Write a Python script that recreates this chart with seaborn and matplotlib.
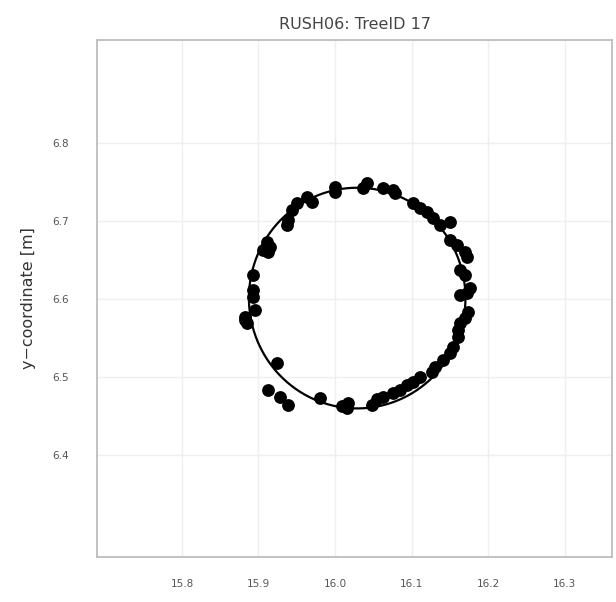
import numpy as np
import pandas as pd
import matplotlib
matplotlib.use("Agg")
import matplotlib.pyplot as plt
import seaborn as sns

title = "RUSH06: TreeID 17"
ylabel = "y\u2212coordinate [m]"

x_pts = [16.000, 16.000, 16.042, 16.037, 16.063, 16.076, 16.078, 16.102, 16.111, 16.120,
         16.128, 16.137, 16.150, 16.150, 16.159, 16.170, 16.173, 16.163, 16.170, 16.176,
         16.163, 16.173, 16.174, 16.170, 16.163, 16.161, 16.161, 16.154, 16.150, 16.141,
         16.131, 16.127, 16.111, 16.102, 16.094, 16.085, 16.076, 16.063, 16.055, 16.048,
         16.017, 16.016, 16.009, 15.980, 15.912, 15.928, 15.939, 15.924, 15.882, 15.885,
         15.882, 15.895, 15.893, 15.893, 15.893, 15.911, 15.915, 15.906, 15.912, 15.939,
         15.937, 15.944, 15.950, 15.963, 15.970]
y_pts = [6.744, 6.737, 6.749, 6.742, 6.742, 6.740, 6.736, 6.723, 6.717, 6.712,
         6.704, 6.695, 6.699, 6.676, 6.669, 6.660, 6.654, 6.637, 6.631, 6.614,
         6.605, 6.608, 6.583, 6.576, 6.569, 6.560, 6.551, 6.538, 6.531, 6.522,
         6.513, 6.506, 6.500, 6.494, 6.490, 6.483, 6.479, 6.474, 6.471, 6.464,
         6.467, 6.460, 6.462, 6.473, 6.483, 6.474, 6.464, 6.518, 6.577, 6.569,
         6.573, 6.586, 6.612, 6.603, 6.631, 6.673, 6.667, 6.663, 6.660, 6.701,
         6.695, 6.714, 6.723, 6.731, 6.724]

# fitted circle parameters
circle_cx = 16.029
circle_cy = 6.601
circle_r = 0.1415

x_ticks = [15.8, 15.9, 16.0, 16.1, 16.2, 16.3]
y_ticks = [6.4, 6.5, 6.6, 6.7, 6.8]

df = pd.DataFrame({"x": x_pts, "y": y_pts})

sns.set_theme(style="white")
plt.rcParams['font.family'] = ['DejaVu Sans']

fig = plt.figure(figsize=(6.16, 6.02), dpi=100)
ax = fig.add_axes([0.1575, 0.0748, 0.836, 0.8588])

t = np.linspace(0, 2 * np.pi, 400)
circ = pd.DataFrame({"x": circle_cx + circle_r * np.cos(t),
                     "y": circle_cy + circle_r * np.sin(t)})
ax.plot(circ["x"], circ["y"], color="black", lw=1.6, zorder=2)

sns.scatterplot(data=df, x="x", y="y", ax=ax, color="black", s=85,
                edgecolor="black", linewidth=0, zorder=3, legend=False)

ax.set_xlim(15.689, 16.362)
ax.set_ylim(6.269, 6.932)
ax.set_xticks(x_ticks)
ax.set_yticks(y_ticks)
ax.set_xticklabels([f"{v:.1f}" for v in x_ticks])
ax.set_yticklabels([f"{v:.1f}" for v in y_ticks])
ax.grid(True, color="#efefef", lw=1.0)
ax.set_axisbelow(True)
for sp in ax.spines.values():
    sp.set_color("#bdbdbd")
    sp.set_linewidth(1.3)
ax.tick_params(axis="both", which="both", direction="out", length=6, width=1,
               color="#9a9a9a", labelcolor="#555555", labelsize=7.5, pad=10)
ax.tick_params(axis="y", pad=14)
ax.set_xlabel("")
ax.set_ylabel(ylabel, fontsize=11.5, color="#333333", labelpad=12)
ax.set_title(title, fontsize=11.5, color="#444444", pad=8)

fig.savefig("out.png", dpi=100)
